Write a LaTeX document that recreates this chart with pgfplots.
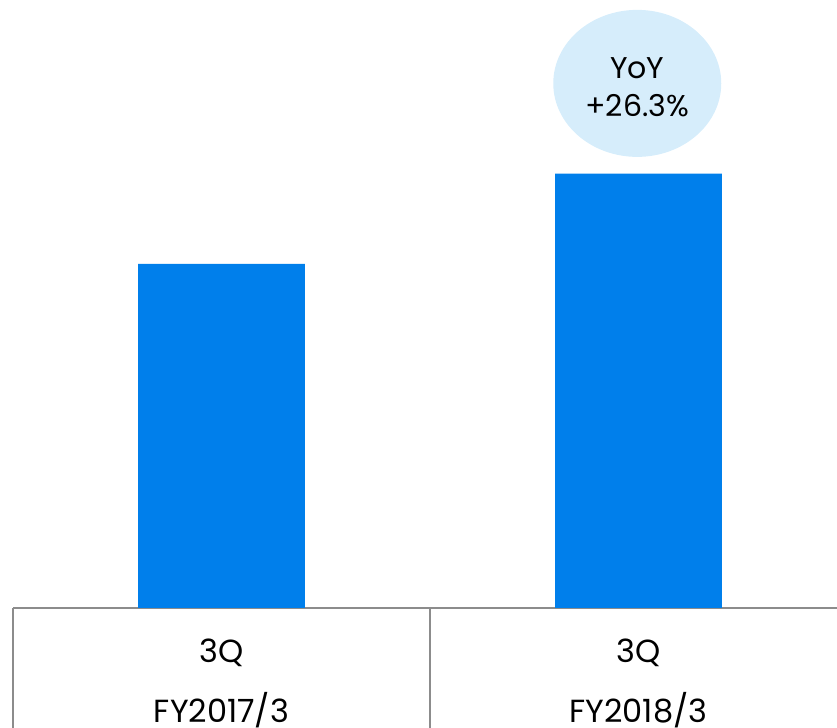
\documentclass[border=0pt]{standalone}
\usepackage{fontspec}
\setmainfont{Poppins}
\usepackage{pgfplots}
\pgfplotsset{compat=1.18}
\definecolor{barblue}{HTML}{007FEB}
\definecolor{bubble}{HTML}{D6EDFB}
\definecolor{rulegray}{HTML}{8C8C8C}
\begin{document}
\begin{tikzpicture}
\path[use as bounding box] (0,0) rectangle (418.5pt,364pt);
\clip (0,0) rectangle (418.5pt,364pt);
\begin{axis}[
  at={(6.5pt,60pt)}, anchor=south west,
  scale only axis, width=412pt, height=304pt,
  xmin=-0.5, xmax=1.476, ymin=0, ymax=176.74,
  axis x line=bottom, axis y line=none,
  x axis line style={-, draw=rulegray, line width=1pt},
  ybar, bar width=0.4,
  xtick={0,1},
  xticklabels={{3Q\\[12pt]FY2017/3},{3Q\\[12pt]FY2018/3}},
  major tick length=0,
  xticklabel style={align=center, font=\fontsize{16}{18}\selectfont, anchor=north, yshift=-12pt},
  ytick=\empty,
  clip=false,
]
\addplot[fill=barblue, draw=none] coordinates {(0,100) (1,126.3)};
\draw[rulegray, line width=1pt] (axis cs:-0.5,0) -- ([yshift=-70pt]axis cs:-0.5,0);
\draw[rulegray, line width=1pt] (axis cs:0.5,0) -- ([yshift=-70pt]axis cs:0.5,0);
\fill[bubble] (axis cs:0.997,152.5) ellipse [x radius=42pt, y radius=36.75pt];
\node[align=center, font=\fontsize{15}{19}\selectfont] at (axis cs:0.997,151.5) {YoY\\+26.3\%};
\end{axis}
\end{tikzpicture}
\end{document}
